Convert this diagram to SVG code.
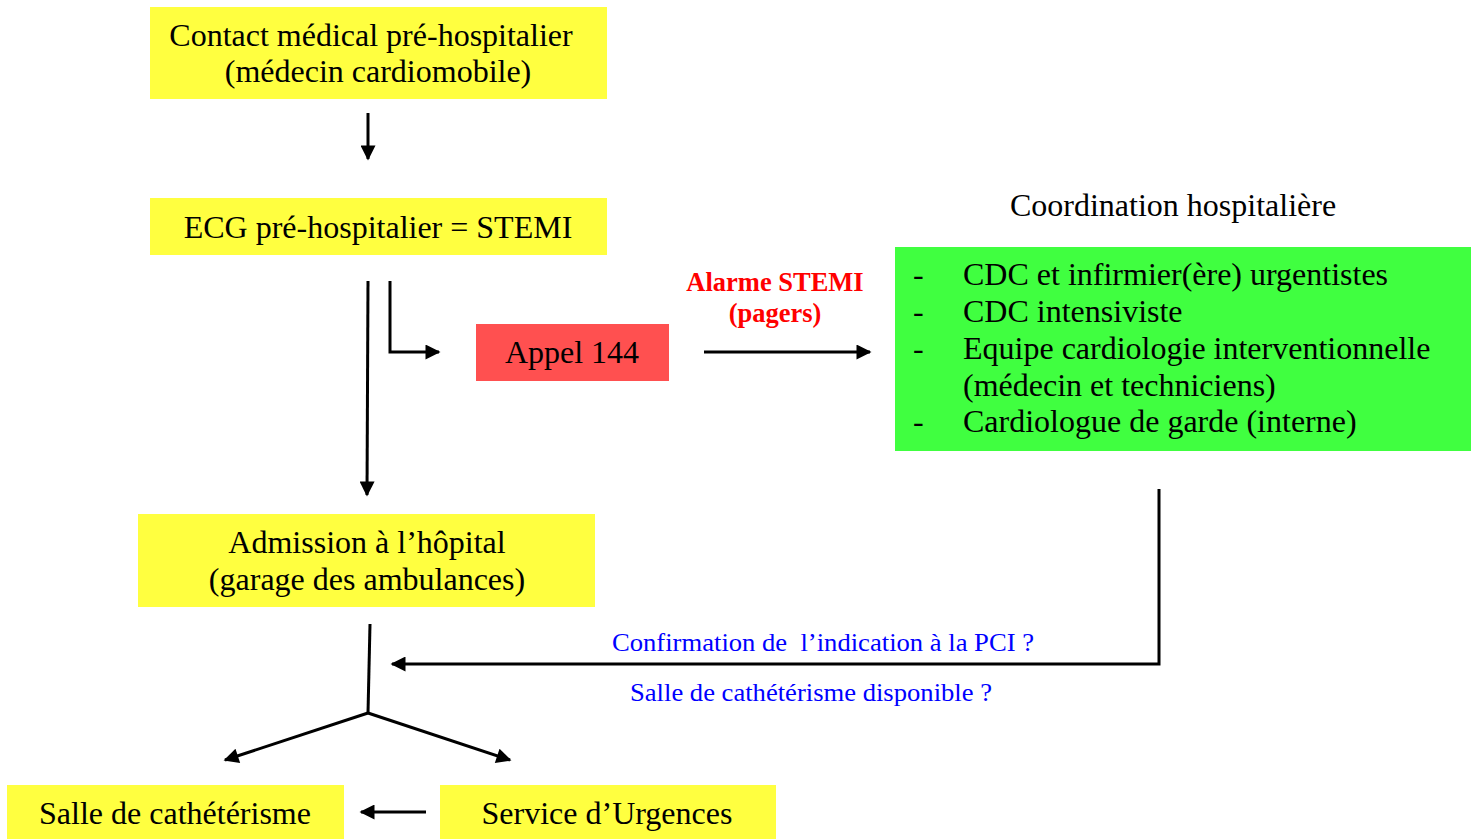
<svg xmlns="http://www.w3.org/2000/svg" width="1471" height="839" viewBox="0 0 1471 839">
<style>
.y{fill:#FFFF40}
.t{font-family:"Liberation Serif","Times New Roman",serif;font-size:32px;fill:#000}
.c{text-anchor:middle}
.r{font-family:"Liberation Serif",serif;font-size:26.5px;font-weight:bold;fill:#FF0000;text-anchor:middle}
.b{font-family:"Liberation Serif",serif;font-size:26px;fill:#0000FF;text-anchor:middle}
.ln{stroke:#000;stroke-width:3;fill:none}
</style>
<defs>
<marker id="ah" viewBox="0 0 10 10" refX="9" refY="5" markerWidth="6" markerHeight="5" orient="auto" markerUnits="strokeWidth">
<path d="M0,0 L10,5 L0,10 Z" fill="#000"/>
</marker>
</defs>
<rect width="1471" height="839" fill="#fff"/>
<g id="n1">
<rect class="y" x="150" y="7" width="457" height="92"/>
<text class="t c" x="371" y="46">Contact médical pré-hospitalier</text>
<text class="t c" x="378" y="82">(médecin cardiomobile)</text>
</g>
<g id="n2">
<rect class="y" x="150" y="198" width="457" height="57"/>
<text class="t c" x="378" y="238">ECG pré-hospitalier = STEMI</text>
</g>
<g id="n3">
<rect x="476" y="324" width="193" height="57" fill="#FF5050"/>
<text class="t c" x="572" y="363">Appel 144</text>
</g>
<g id="lbl-alarme">
<text class="r" x="775" y="291">Alarme STEMI</text>
<text class="r" x="775" y="322">(pagers)</text>
</g>
<g id="n4">
<text class="t c" x="1173" y="216">Coordination hospitalière</text>
<rect x="895" y="247" width="576" height="204" fill="#40FF40"/>
<text class="t" x="913" y="285">-</text>
<text class="t" x="963" y="285">CDC et infirmier(ère) urgentistes</text>
<text class="t" x="913" y="322">-</text>
<text class="t" x="963" y="322">CDC intensiviste</text>
<text class="t" x="913" y="359">-</text>
<text class="t" x="963" y="359">Equipe cardiologie interventionnelle</text>
<text class="t" x="963" y="396">(médecin et techniciens)</text>
<text class="t" x="913" y="432">-</text>
<text class="t" x="963" y="432">Cardiologue de garde (interne)</text>
</g>
<g id="n5">
<rect class="y" x="138" y="514" width="457" height="93"/>
<text class="t c" x="367" y="553">Admission à l’hôpital</text>
<text class="t c" x="367" y="590">(garage des ambulances)</text>
</g>
<g id="lbl-q">
<text class="b" x="823" y="651" xml:space="preserve" textLength="422" lengthAdjust="spacingAndGlyphs">Confirmation de  l’indication à la PCI ?</text>
<text class="b" x="811" y="701" textLength="362" lengthAdjust="spacingAndGlyphs">Salle de cathétérisme disponible ?</text>
</g>
<g id="n6">
<rect class="y" x="7" y="785" width="337" height="54"/>
<text class="t c" x="175" y="824">Salle de cathétérisme</text>
</g>
<g id="n7">
<rect class="y" x="440" y="785" width="336" height="54"/>
<text class="t c" x="607" y="824">Service d’Urgences</text>
</g>
<g id="connectors">
<line class="ln" x1="368" y1="113" x2="368" y2="159" marker-end="url(#ah)"/>
<line class="ln" x1="368" y1="281" x2="367" y2="495" marker-end="url(#ah)"/>
<polyline class="ln" points="390,281 390,352 439,352" marker-end="url(#ah)"/>
<line class="ln" x1="704" y1="352" x2="870" y2="352" marker-end="url(#ah)"/>
<polyline class="ln" points="1159,489 1159,664 392,664" marker-end="url(#ah)"/>
<polyline class="ln" points="370,624 368,713"/>
<line class="ln" x1="368" y1="713" x2="225" y2="760" marker-end="url(#ah)"/>
<line class="ln" x1="368" y1="713" x2="510" y2="760" marker-end="url(#ah)"/>
<line class="ln" x1="426" y1="812" x2="361" y2="812" marker-end="url(#ah)"/>
</g>
</svg>
